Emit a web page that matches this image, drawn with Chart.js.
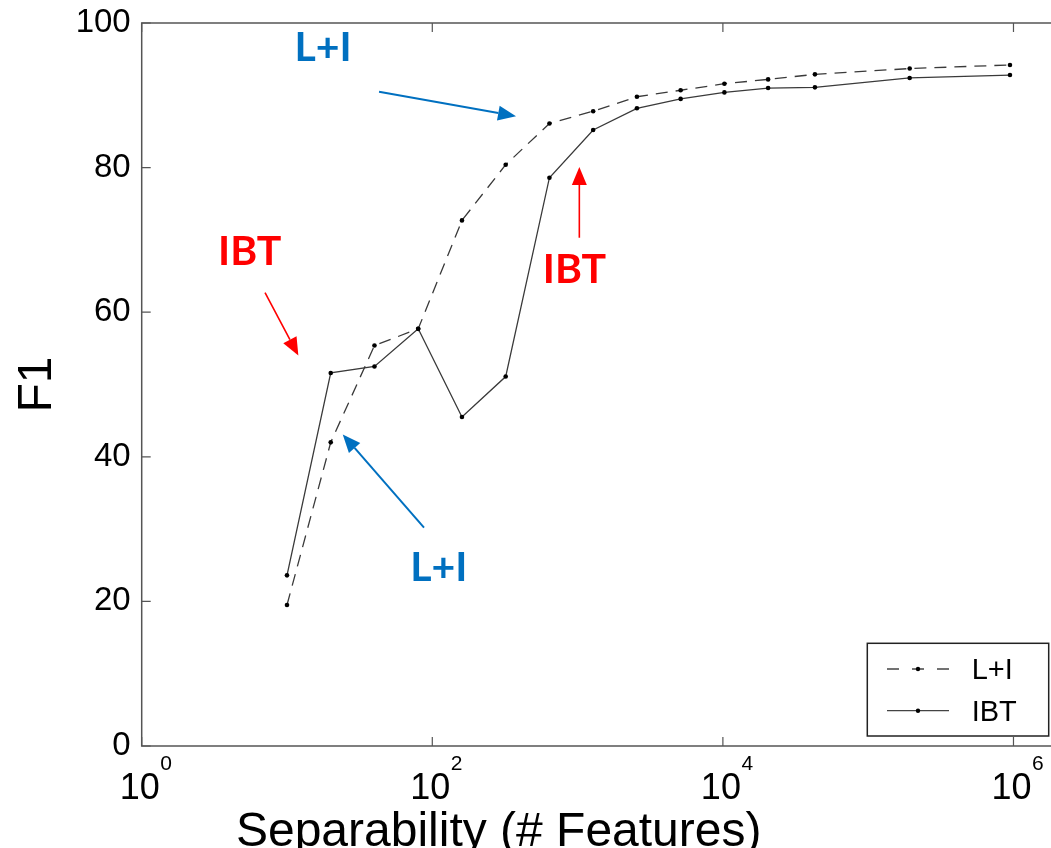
<!DOCTYPE html>
<html><head><meta charset="utf-8">
<script src="https://cdn.jsdelivr.net/npm/chart.js@4.4.1/dist/chart.umd.min.js"></script>
<style>
html,body{margin:0;padding:0;overflow:hidden;background:#fff;width:1051px;height:848px}
#wrap{position:absolute;left:0;top:0;width:1080px;height:860px}
canvas{display:block}
</style></head>
<body><div id="wrap"><canvas id="c" width="1080" height="860"></canvas></div>
<script>
// ---- data ----
const features = [10, 20, 40, 80, 160, 320, 640, 1280, 2560, 5120, 10240, 20480, 43000, 193000, 946000];
const f1LI  = [19.5, 42.0, 55.4, 57.7, 72.7, 80.4, 86.1, 87.8, 89.8, 90.7, 91.6, 92.2, 92.9, 93.7, 94.2];
const f1IBT = [23.6, 51.6, 52.5, 57.7, 45.5, 51.1, 78.6, 85.2, 88.2, 89.5, 90.4, 91.0, 91.1, 92.4, 92.8];
const seriesNames = ['L+I', 'IBT'];
const yTickValues = [0, 20, 40, 60, 80, 100];
const xTickValues = [1, 100, 10000, 1000000];
const xTickBase = '10';
const xTickExponents = ['0', '2', '4', '6'];
const xTitle = 'Separability (# Features)';
const yTitle = 'F1';

// ---- annotation callouts (data coordinates) ----
const callouts = [
  {text: 'L+I', color: '#0070C0', lw: 2, tx: 17.7, ty: 96.6, from: [43, 90.5], to: [377, 87.1]},
  {text: 'IBT', color: '#FF0000', lw: 1.6, tx: 5.54, ty: 68.4, from: [7.06, 62.7], to: [11.97, 54.0]},
  {text: 'IBT', color: '#FF0000', lw: 1.6, tx: 952, ty: 65.8, from: [1028, 70.3], to: [1028, 80.1]},
  {text: 'L+I', color: '#0070C0', lw: 2, tx: 111, ty: 24.6, from: [87.7, 30.2], to: [24.2, 43.1]}
];

const FONT = "'Liberation Sans', Arial, Helvetica, sans-serif";

function arrow(ctx, x0, y0, x1, y1, color, lw) {
  const ang = Math.atan2(y1 - y0, x1 - x0);
  const hl = 18, hw = 7.5;
  const bx = x1 - hl * Math.cos(ang), by = y1 - hl * Math.sin(ang);
  ctx.save();
  ctx.strokeStyle = color; ctx.fillStyle = color; ctx.lineWidth = lw;
  ctx.beginPath(); ctx.moveTo(x0, y0); ctx.lineTo(bx, by); ctx.stroke();
  ctx.beginPath();
  ctx.moveTo(x1, y1);
  ctx.lineTo(bx + hw * Math.sin(ang), by - hw * Math.cos(ang));
  ctx.lineTo(bx - hw * Math.sin(ang), by + hw * Math.cos(ang));
  ctx.closePath(); ctx.fill();
  ctx.restore();
}

const decor = {
  id: 'decor',
  afterDraw(chart) {
    const ctx = chart.ctx, a = chart.chartArea;
    const xs = chart.scales.x, ys = chart.scales.y;
    ctx.save();
    // frame
    ctx.strokeStyle = '#555'; ctx.lineWidth = 1.5;
    ctx.strokeRect(a.left, a.top, a.right - a.left, a.bottom - a.top);
    // inner ticks
    ctx.lineWidth = 1.2; ctx.strokeStyle = '#555';
    ctx.beginPath();
    yTickValues.forEach(v => {
      const y = ys.getPixelForValue(v);
      ctx.moveTo(a.left, y); ctx.lineTo(a.left + 9, y);
      ctx.moveTo(a.right, y); ctx.lineTo(a.right - 9, y);
    });
    xTickValues.forEach(v => {
      const x = xs.getPixelForValue(v);
      ctx.moveTo(x, a.bottom); ctx.lineTo(x, a.bottom - 9);
      ctx.moveTo(x, a.top); ctx.lineTo(x, a.top + 9);
    });
    ctx.stroke();
    // x tick labels with superscript exponents
    ctx.fillStyle = '#000';
    xTickValues.forEach((v, i) => {
      const x = xs.getPixelForValue(v) - 2;
      ctx.font = '36px ' + FONT;
      ctx.textAlign = 'center'; ctx.textBaseline = 'alphabetic';
      const w = ctx.measureText(xTickBase).width;
      ctx.fillText(xTickBase, x, a.bottom + 53);
      ctx.font = '21px ' + FONT;
      ctx.textAlign = 'left';
      ctx.fillText(xTickExponents[i], x + w / 2 + 0.5, a.bottom + 24);
    });
    // x axis title
    ctx.font = '48px ' + FONT;
    ctx.textAlign = 'center'; ctx.textBaseline = 'alphabetic';
    ctx.fillText(xTitle, 498.7, a.bottom + 100);

    // callouts
    callouts.forEach(c => {
      arrow(ctx, xs.getPixelForValue(c.from[0]), ys.getPixelForValue(c.from[1]),
                 xs.getPixelForValue(c.to[0]), ys.getPixelForValue(c.to[1]), c.color, c.lw);
      ctx.font = "bold 41px Lato, 'Open Sans', sans-serif";
      ctx.fillStyle = c.color; ctx.textAlign = 'center'; ctx.textBaseline = 'middle';
      ctx.fillText(c.text, xs.getPixelForValue(c.tx), ys.getPixelForValue(c.ty));
    });

    // legend
    const L = 867.3, T = 643.3, R = 1048.7, B = 736;
    ctx.fillStyle = '#fff'; ctx.fillRect(L, T, R - L, B - T);
    ctx.strokeStyle = '#222'; ctx.lineWidth = 1.5; ctx.strokeRect(L, T, R - L, B - T);
    const rows = [669, 710.7];
    chart.data.datasets.forEach((ds, i) => {
      const y = rows[i];
      ctx.strokeStyle = '#444'; ctx.lineWidth = 1.3;
      ctx.beginPath();
      if (i === 0) {
        [[887, 899], [912, 924], [937, 949]].forEach(s => { ctx.moveTo(s[0], y); ctx.lineTo(s[1], y); });
      } else {
        ctx.moveTo(887, y); ctx.lineTo(949, y);
      }
      ctx.stroke();
      ctx.fillStyle = '#000';
      ctx.beginPath(); ctx.arc(918, y, 2.2, 0, Math.PI * 2); ctx.fill();
      ctx.font = '29px ' + FONT; ctx.textAlign = 'left'; ctx.textBaseline = 'middle';
      ctx.fillText(ds.label, 971.7, y + 2);
    });
    ctx.restore();
  }
};

const mk = (vals) => features.map((x, i) => ({x: x, y: vals[i]}));

new Chart(document.getElementById('c'), {
  type: 'line',
  data: {
    datasets: [
      {label: seriesNames[0], data: mk(f1LI), borderColor: '#3a3a3a', borderWidth: 1.3, borderDash: [12, 8],
       pointRadius: 2.3, pointBackgroundColor: '#000', pointBorderWidth: 0, tension: 0, fill: false},
      {label: seriesNames[1], data: mk(f1IBT), borderColor: '#3a3a3a', borderWidth: 1.3,
       pointRadius: 2.3, pointBackgroundColor: '#000', pointBorderWidth: 0, tension: 0, fill: false}
    ]
  },
  options: {
    responsive: false, animation: false, devicePixelRatio: 1,
    layout: {padding: {top: 23, left: 0, right: 8.4, bottom: 0}},
    plugins: {legend: {display: false}, tooltip: {enabled: false}},
    scales: {
      x: {
        type: 'logarithmic', min: 1, max: Math.pow(10, 6.4),
        grid: {display: false, drawTicks: false}, border: {display: false},
        ticks: {display: false},
        afterBuildTicks: s => { s.ticks = xTickValues.map(v => ({value: v, major: true})); },
        afterFit: s => { s.height = 114; s.paddingLeft = 0; s.paddingRight = 0; }
      },
      y: {
        min: 0, max: 100,
        grid: {display: false, drawTicks: false}, border: {display: false},
        ticks: {padding: 11, color: '#000', font: {size: 33, family: FONT}},
        afterBuildTicks: s => { s.ticks = yTickValues.map(v => ({value: v})); },
        title: {display: true, text: yTitle, color: '#000', font: {size: 48, family: FONT}, padding: {top: 8.6, bottom: 0}},
        afterFit: s => { s.width = 141.7; s.paddingTop = 0; s.paddingBottom = 0; }
      }
    }
  },
  plugins: [decor]
});
</script>
</body></html>
